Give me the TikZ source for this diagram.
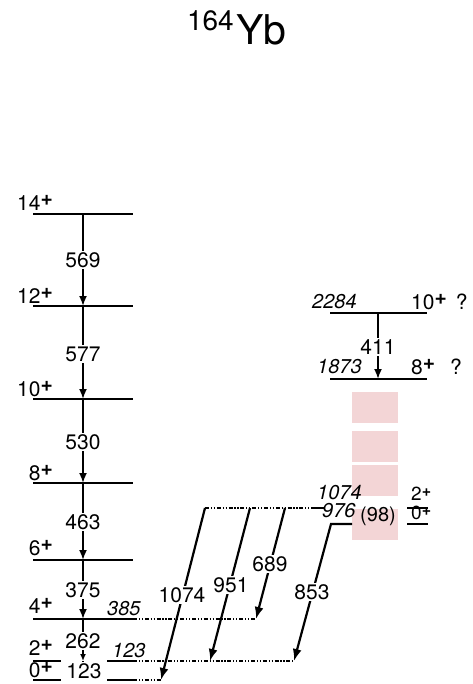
\documentclass[tikz,border=0pt]{standalone}
\usepackage{fontspec}
\setmainfont{TeX Gyre Heros}
\usetikzlibrary{arrows.meta}
\definecolor{pinkbox}{RGB}{243,213,214}
\newcommand\plussup{\raisebox{5pt}{\fontsize{21}{21}\selectfont\bfseries +}}
\newcommand\plussmall{\raisebox{4pt}{\fontsize{16}{16}\selectfont\bfseries +}}
\begin{document}
\begin{tikzpicture}[x=1pt,y=-1pt,
  lvl/.style={line width=1.8pt},
  dl/.style={line width=1.1pt, dash pattern=on 4pt off 1.8pt on 1.2pt off 1.8pt on 1.2pt off 1.8pt},
  tr/.style={line width=1.8pt,-{Latex[length=10pt,width=8pt]}},
  trs/.style={line width=1.8pt,-{Latex[length=7pt,width=6pt]}},
  dg/.style={line width=2.2pt,-{Latex[length=12pt,width=9pt]}},
  val/.style={fill=white,inner sep=1.5pt,font=\fontsize{21}{24}\selectfont},
  spin/.style={inner sep=0pt,font=\fontsize{21}{24}\selectfont,anchor=base east},
  spinr/.style={inner sep=0pt,font=\fontsize{21}{24}\selectfont,anchor=base west},
  en/.style={inner sep=0pt,font=\fontsize{20}{24}\selectfont\itshape,anchor=base west},
  pbox/.style={fill=pinkbox,draw=none}]
\useasboundingbox (0,0) rectangle (472,684);

% title
\node[inner sep=0pt,anchor=base west,font=\fontsize{41}{45}\selectfont] (yb) at (236,45) {Yb};
\node[inner sep=0pt,anchor=base east,font=\fontsize{28}{32}\selectfont] (mass) at (234,31) {164};

% pink boxes
\node[pbox,minimum width=46pt,minimum height=31pt,inner sep=0pt] (p1) at (375,407.5) {};
\node[pbox,minimum width=46pt,minimum height=31pt,inner sep=0pt] (p2) at (375,446.5) {};
\node[pbox,minimum width=46pt,minimum height=31pt,inner sep=0pt] (p3) at (375,480.5) {};
\node[pbox,minimum width=46pt,minimum height=31pt,inner sep=0pt] (p4) at (375,524.5) {};

% ground band levels
\coordinate (g14) at (83,214);
\coordinate (g12) at (83,306);
\coordinate (g10) at (83,399);
\coordinate (g8) at (83,483);
\coordinate (g6) at (83,560);
\coordinate (g4) at (83,619);
\coordinate (g2) at (83,661);
\coordinate (g0) at (83,680);
\foreach \y in {214,306,399,483,560,619}{
  \draw[lvl] (33,\y) -- (133,\y);
}
\draw[lvl] (33,661) -- (61,661);
\draw[lvl] (107,661) -- (133,661);
\draw[lvl] (33,680) -- (61,680);
\draw[lvl] (107,680) -- (133,680);

\node[spin] (s14) at (53,211) {14\plussup};
\node[spin] (s12) at (53,303) {12\plussup};
\node[spin] (s10) at (53,396) {10\plussup};
\node[spin] (s8) at (53,480) {8\plussup};
\node[spin] (s6) at (53,555) {6\plussup};
\node[spin] (s4) at (53,613) {4\plussup};
\node[spin] (s2) at (53,655) {2\plussup};
\node[spin] (s0) at (53,677) {0\plussup};

% ground band transitions
\draw[tr] (g14) -- (g12);
\draw[tr] (g12) -- (g10);
\draw[tr] (g10) -- (g8);
\draw[tr] (g8) -- (g6);
\draw[tr] (g6) -- (g4);
\draw[trs] (g4) -- (g2);
\draw[line width=1.8pt] (g2) -- (g0);
\node[val] (t569) at (83,260) {569};
\node[val] (t577) at (83,354) {577};
\node[val] (t530) at (83,442) {530};
\node[val] (t463) at (83,522) {463};
\node[val] (t375) at (83,590) {375};
\node[val] (t262) at (83,641) {262};
\node[val] (t123) at (84,671) {123};

\node[en] (e385) at (107,615) {385};
\node[en] (e123) at (112,657) {123};

% dotted level extensions
\coordinate (a1074s) at (205,508);
\coordinate (a951s) at (250,508);
\coordinate (a689s) at (285,508);
\coordinate (lv1074e) at (318,508);
\coordinate (a1074e) at (161,680);
\coordinate (a951e) at (210,661);
\coordinate (a689e) at (256,619);
\coordinate (a853e) at (294,661);
\coordinate (a853c) at (331,524);
\coordinate (a853s) at (352,524);
\draw[dl] (a1074s) -- (lv1074e);
\draw[dl] (133,619) -- (a689e);
\draw[dl] (133,661) -- (a853e);
\draw[dl] (133,680) -- (a1074e);

% interband transitions
\draw[dg] (a1074s) -- (a1074e);
\draw[dg] (a951s) -- (a951e);
\draw[dg] (a689s) -- (a689e);
\draw[dg,line join=miter] (a853s) -- (a853c) -- (a853e);
\node[val] (t1074) at (182,595) {1074};
\node[val] (t951) at (231,585) {951};
\node[val] (t689) at (270,564) {689};
\node[val] (t853) at (312,592) {853};

% right band
\coordinate (r10) at (378,313);
\coordinate (r8) at (378,379);
\draw[lvl] (330,313) -- (427,313);
\draw[lvl] (330,379) -- (427,379);
\draw[tr] (r10) -- (r8);
\node[val] (t411) at (378,347) {411};
\node[en] (e2284) at (312,308) {2284};
\node[en] (e1873) at (317,373) {1873};
\node[spinr] (s10r) at (411,309) {10\plussup\hspace{9pt}?};
\node[spinr] (s8r) at (411,374) {8\plussup\hspace{15pt}?};

% 1074 / 976 levels
\draw[lvl] (312,508) -- (324,508);
\draw[lvl] (407,508) -- (428,508);
\draw[lvl] (407,524) -- (428,524);
\node[en] (e1074) at (317,499) {1074};
\node[en] (e976) at (322,517) {976};
\node[inner sep=0pt,font=\fontsize{20}{24}\selectfont] (t98) at (378,516) {(98)};
\node[spinr,font=\fontsize{19}{24}\selectfont] (s2r) at (411,500) {2\plussmall};
\node[spinr,font=\fontsize{19}{24}\selectfont] (s0r) at (411,519) {0\plussmall};
\end{tikzpicture}
\end{document}
